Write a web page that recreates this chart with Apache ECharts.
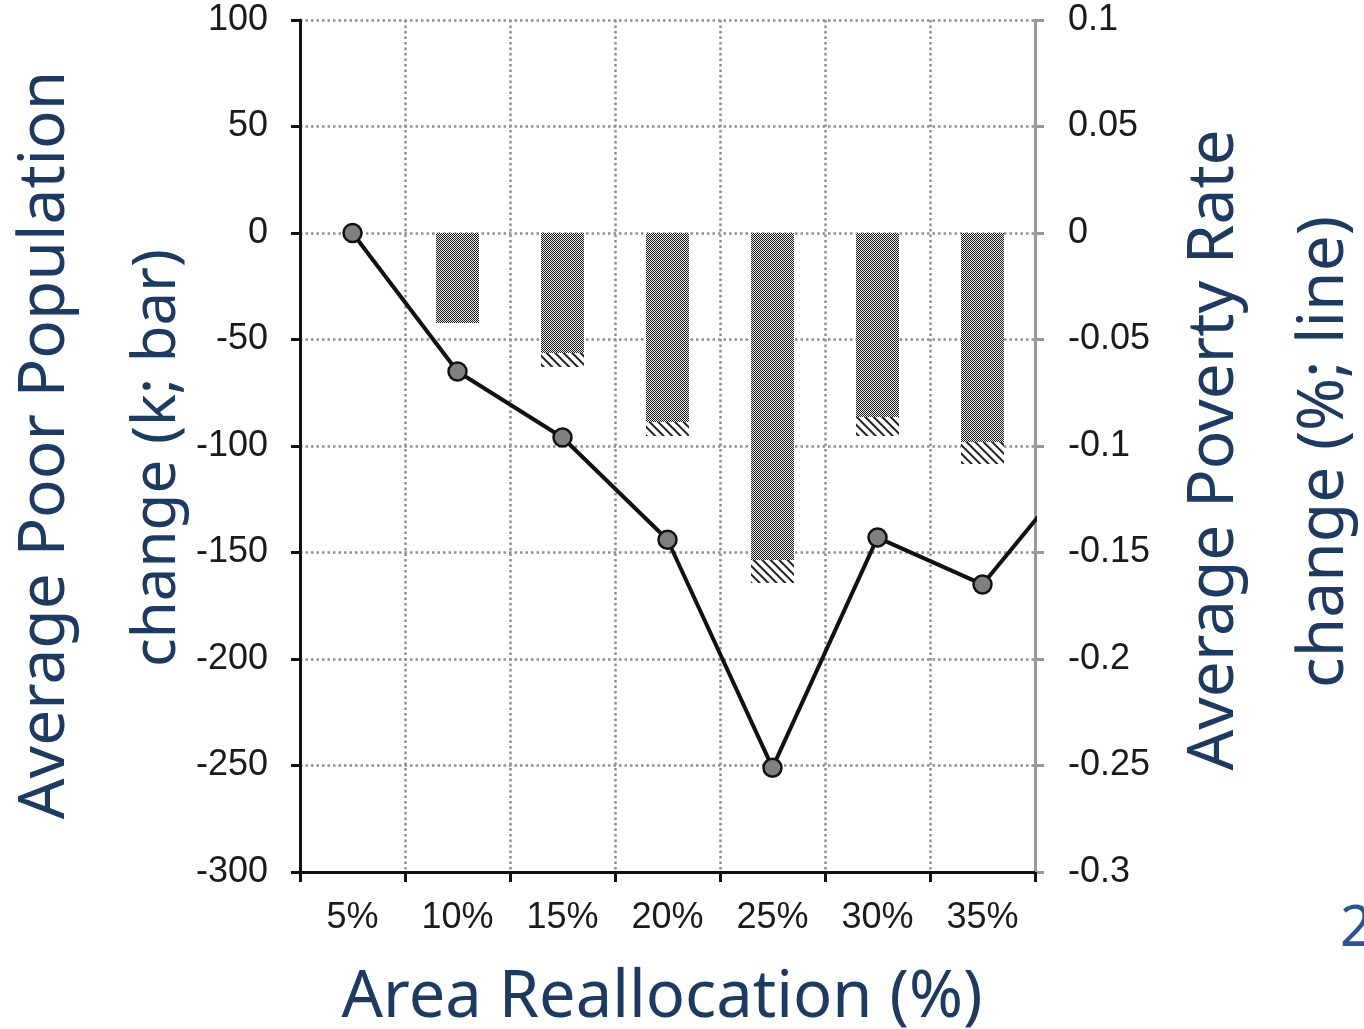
<!DOCTYPE html>
<html>
<head>
<meta charset="utf-8">
<script src="https://cdn.jsdelivr.net/npm/echarts@6/dist/echarts.min.js"></script>
<style>
  html, body { margin: 0; padding: 0; background: #fff; }
  #chart { width: 1364px; height: 1029px; }
</style>
</head>
<body>
<div id="chart"></div>
<script>
// 数据
const categories = ['5%', '10%', '15%', '20%', '25%', '30%', '35%', '40%']
const barSolid = [0, -42.3, -56.3, -88.7, -153.5, -86.4, -98.1] // k, 实心部分
const barHatch = [0, 0, -6.6, -6.6, -10.8, -8.9, -10.3] // k, 斜线部分
const rateLine = [0, -0.065, -0.096, -0.144, -0.251, -0.143, -0.165, -0.105] // %
const leftTicks = [-300, 100, 50]
const rightTicks = [-0.3, 0.1, 0.05]

const titleColor = '#1f3a60'
const tickFont = 'Liberation Sans'
const titleFont = 'Noto Sans'
const dotted = [2.5, 3]

let myChart = echarts.init(document.getElementById('chart'))
myChart.setOption({
  animation: false,
  grid: { left: 300, right: 329, top: 20, bottom: 157 },
  xAxis: {
    type: 'category',
    data: categories,
    max: 6, // 只显示前7个，最后一段线被裁掉
    boundaryGap: true,
    axisLine: { onZero: false, lineStyle: { color: '#111', width: 3 } },
    axisTick: { show: true, length: 10, lineStyle: { color: '#111', width: 3 } },
    axisLabel: { margin: 28, fontFamily: tickFont, fontSize: 36, color: '#1a1a1a' },
    splitLine: { show: true, lineStyle: { color: '#8f8f8f', width: 2.5, type: dotted } }
  },
  yAxis: [
    {
      type: 'value',
      min: leftTicks[0],
      max: leftTicks[1],
      interval: leftTicks[2],
      axisLine: { show: true, lineStyle: { color: '#111', width: 3 } },
      axisTick: { show: true, length: 9, lineStyle: { color: '#111', width: 3 } },
      axisLabel: { margin: 32, fontFamily: tickFont, fontSize: 36, color: '#1a1a1a' },
      splitLine: { show: true, lineStyle: { color: '#8f8f8f', width: 2.5, type: dotted } }
    },
    {
      type: 'value',
      position: 'right',
      min: rightTicks[0],
      max: rightTicks[1],
      interval: rightTicks[2],
      axisLine: { show: true, lineStyle: { color: '#999', width: 3 } },
      axisTick: { show: true, length: 9, lineStyle: { color: '#999', width: 3 } },
      axisLabel: { margin: 33, fontFamily: tickFont, fontSize: 36, color: '#1a1a1a' },
      splitLine: { show: false }
    }
  ],
  series: [
    {
      name: 'solid',
      type: 'bar',
      stack: 'poor',
      barWidth: 43,
      data: barSolid,
      itemStyle: {
        color: '#1e1e1e',
        decal: {
          symbol: 'rect',
          symbolSize: 1,
          color: '#e6e6e6',
          dashArrayX: [[1, 1], [0, 1, 1, 0]],
          dashArrayY: [1, 0]
        }
      }
    },
    {
      name: 'hatch',
      type: 'bar',
      stack: 'poor',
      barWidth: 43,
      data: barHatch,
      itemStyle: {
        color: '#ffffff',
        decal: {
          symbol: 'rect',
          symbolSize: 1,
          color: '#222',
          dashArrayX: [1, 0],
          dashArrayY: [2, 4],
          rotation: Math.PI / 4
        }
      }
    },
    {
      name: 'rate',
      type: 'line',
      yAxisIndex: 1,
      data: rateLine,
      clip: true,
      z: 5,
      symbol: 'circle',
      symbolSize: 18,
      lineStyle: { color: '#111', width: 4 },
      itemStyle: { color: '#808080', borderColor: '#111', borderWidth: 2.5 }
    }
  ],
  graphic: [
    {
      type: 'text', x: 46, y: 445, rotation: Math.PI / 2,
      style: { text: 'Average Poor Population', fontFamily: titleFont, fontSize: 64, fill: titleColor, align: 'center', verticalAlign: 'middle' }
    },
    {
      type: 'text', x: 158, y: 458, rotation: Math.PI / 2,
      style: { text: 'change (k; bar)', fontFamily: titleFont, fontSize: 60, fill: titleColor, align: 'center', verticalAlign: 'middle' }
    },
    {
      type: 'text', x: 1215, y: 450, rotation: Math.PI / 2,
      style: { text: 'Average Poverty Rate', fontFamily: titleFont, fontSize: 64, fill: titleColor, align: 'center', verticalAlign: 'middle' }
    },
    {
      type: 'text', x: 1325, y: 452, rotation: Math.PI / 2,
      style: { text: 'change (%; line)', fontFamily: titleFont, fontSize: 64, fill: titleColor, align: 'center', verticalAlign: 'middle' }
    },
    {
      type: 'text', x: 662, y: 998,
      style: { text: 'Area Reallocation (%)', fontFamily: titleFont, fontSize: 65, fill: titleColor, align: 'center', verticalAlign: 'middle' }
    },
    {
      type: 'text', x: 1340, y: 930,
      style: { text: '2', fontFamily: titleFont, fontSize: 56, fill: '#2b5591', align: 'left', verticalAlign: 'middle' }
    }
  ]
})
window.addEventListener('resize', function () {
  myChart.resize()
})
</script>
</body>
</html>
